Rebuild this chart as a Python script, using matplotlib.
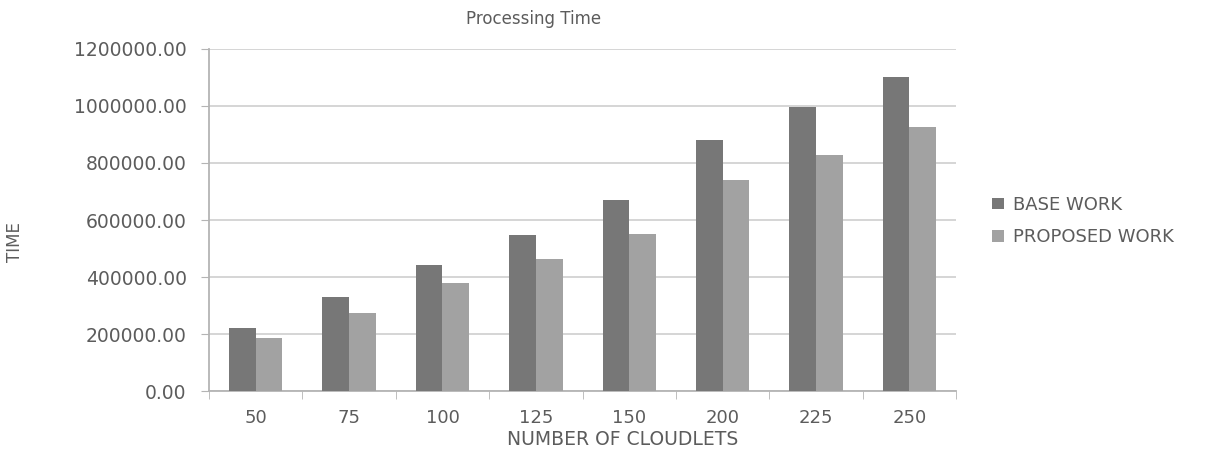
import numpy as np
import matplotlib.pyplot as plt

categories = ["50", "75", "100", "125", "150", "200", "225", "250"]
base_work = [221000, 330000, 443000, 548000, 670000, 880000, 998000, 1103000]
proposed_work = [186000, 274000, 378000, 464000, 551000, 740000, 827000, 927000]

plt.rcParams['font.family'] = ['DejaVu Sans']
txt = '#5c5c5c'

fig = plt.figure(figsize=(12.29, 4.49), dpi=100)
ax = fig.add_axes([0.170, 0.129, 0.608, 0.762])

x = np.arange(len(categories))
w = 0.286
ax.bar(x - w / 2, base_work, w, color='#777777', label='BASE WORK', zorder=3)
ax.bar(x + w / 2, proposed_work, w, color='#a2a2a2', label='PROPOSED WORK', zorder=3)

ax.set_xlim(-0.5, len(categories) - 0.5)
ax.set_ylim(0, 1200000)
yt = np.arange(0, 1200001, 200000)
ax.set_yticks(yt)
ax.set_yticklabels([f"{v:.2f}" for v in yt])
ax.set_xticks(x)
ax.set_xticklabels(categories)
ax.set_xticks(np.arange(-0.5, len(categories)), minor=True)

ax.grid(axis='y', color='#d2d2d2', linewidth=1.3, zorder=0)
for s in ['top', 'right']:
    ax.spines[s].set_visible(False)
for s in ['left', 'bottom']:
    ax.spines[s].set_color('#b4b4b4')
    ax.spines[s].set_linewidth(1.3)

ax.tick_params(axis='x', which='major', length=0, pad=13, labelsize=13, labelcolor=txt)
ax.tick_params(axis='x', which='minor', length=6, color='#b4b4b4', direction='out')
ax.tick_params(axis='y', length=6, color='#b4b4b4', pad=10, labelsize=13.5, labelcolor=txt)

fig.text(0.507, 0.022, "NUMBER OF CLOUDLETS", fontsize=13.5, color=txt,
         ha='center', va='center')
fig.text(0.012, 0.461, "TIME", rotation=90, fontsize=12, color=txt,
         ha='center', va='center')
fig.text(0.434, 0.958, "Processing Time", fontsize=12, color=txt,
         ha='center', va='center')

ax.legend(loc='center left', bbox_to_anchor=(1.038, 0.497), frameon=False,
          fontsize=13, labelcolor=txt, handlelength=0.7, handleheight=0.6,
          handletextpad=0.5, labelspacing=0.8, borderaxespad=0)

plt.savefig("out.png", dpi=100)
